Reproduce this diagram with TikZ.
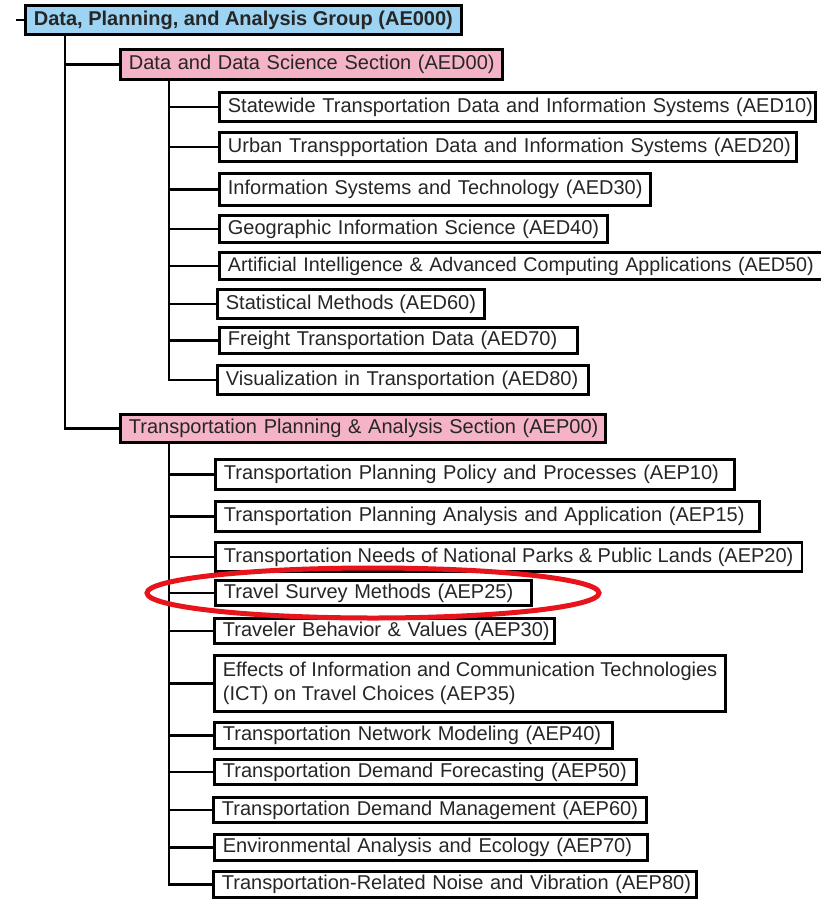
\documentclass[tikz,border=0pt]{standalone}
\usepackage{fontspec}
\setmainfont{Liberation Sans}
\usepackage{xcolor}
\usepackage{tikz}
\usetikzlibrary{positioning}
\definecolor{GroupBlue}{HTML}{9DD3F3}
\definecolor{SectionPink}{HTML}{F4B3C6}
\definecolor{MarkRed}{HTML}{E8141B}
\tikzset{
  MyUnit/.style={
    rectangle, anchor=west, align=left,
    minimum height=28.5pt, inner xsep=8.5pt, inner ysep=2pt,
    line width=2.8pt, draw=black, fill=white,
    font=\fontsize{20}{24}\selectfont, text=black!85,
  },
  MySection/.style={MyUnit, fill=SectionPink},
  MyGroup/.style={MyUnit, fill=GroupBlue, font=\fontsize{20}{24}\selectfont\bfseries},
  MyLine/.style={line width=2.8pt, draw=black},
  MyMark/.style={line width=5pt, draw=MarkRed},
}

\begin{document}
\begin{tikzpicture}[x=1pt, y=-1pt]
\useasboundingbox (0,0) rectangle (820,900);
\node[MyGroup, minimum height=29.5pt] (DPA) at (24,20) {Data, Planning, and Analysis Group (AE000)};
\node[MySection, minimum height=30.5pt, text width=364.7pt] (AED) at (119,64.5) {\mbox{Data and Data Science Section (AED00)}};
\node[MySection, text width=467.7pt] (AEP) at (119,428.5) {\mbox{Transportation Planning \& Analysis Section (AEP00)}};
% data section
\node[MyUnit, minimum height=29.5pt, text width=578.7pt] (AED10) at (218,107) {\mbox{Statewide Transportation Data and Information Systems (AED10)}};
\node[MyUnit, minimum height=29.5pt, text width=559.7pt] (AED20) at (218,147) {\mbox{Urban Transpportation Data and Information Systems (AED20)}};
\node[MyUnit, minimum height=32.5pt, text width=413.7pt] (AED30) at (218,189.5) {\mbox{Information Systems and Technology (AED30)}};
\node[MyUnit, minimum height=27.5pt, text width=370.7pt] (AED40) at (218,229) {\mbox{Geographic Information Science (AED40)}};
\node[MyUnit, minimum height=27.5pt, text width=585.7pt, font=\fontsize{19.7}{24}\selectfont] (AED50) at (218,266) {\mbox{Artificial Intelligence \& Advanced Computing Applications (AED50)}};
\node[MyUnit] (AED60) at (216,304) {Statistical Methods (AED60)};
\node[MyUnit, minimum height=26.5pt, text width=340.7pt] (AED70) at (218,340.5) {\mbox{Freight Transportation Data (AED70)}};
\node[MyUnit, minimum height=29.5pt, text width=353.7pt] (AED80) at (216,380) {\mbox{Visualization in Transportation (AED80)}};
% planning section
\node[MyUnit, minimum height=30.5pt, text width=501.7pt] (AEP10) at (214,474.5) {\mbox{Transportation Planning Policy and Processes (AEP10)}};
\node[MyUnit, minimum height=30.5pt, text width=526.7pt] (AEP15) at (214,516.5) {\mbox{Transportation Planning Analysis and Application (AEP15)}};
\node[MyUnit, minimum height=29.5pt] (AEP20) at (214,557) {Transportation Needs of National Parks \& Public Lands (AEP20)};
\node[MyUnit, minimum height=24.5pt, text width=298.7pt] (AEP25) at (214,593) {\mbox{Travel Survey Methods (AEP25)}};
\node[MyUnit, minimum height=25.5pt, text width=322.7pt] (AEP30) at (213,631) {\mbox{Traveler Behavior \& Values (AEP30)}};
\node[MyUnit, minimum height=56.5pt] (AEP35) at (213,683.5) {Effects of Information and Communication Technologies\\(ICT) on Travel Choices (AEP35)};
\node[MyUnit, minimum height=26.5pt, text width=380.7pt] (AEP40) at (213,735.5) {\mbox{Transportation Network Modeling (AEP40)}};
\node[MyUnit, minimum height=25.5pt, text width=404.7pt] (AEP50) at (213,772) {\mbox{Transportation Demand Forecasting (AEP50)}};
\node[MyUnit, minimum height=25.5pt, text width=415.7pt] (AEP60) at (212,810) {\mbox{Transportation Demand Management (AEP60)}};
\node[MyUnit, minimum height=26.5pt, text width=415.7pt] (AEP70) at (213,847.5) {\mbox{Environmental Analysis and Ecology (AEP70)}};
\node[MyUnit, minimum height=26.5pt, text width=465.7pt] (AEP80) at (212,884.5) {\mbox{Transportation-Related Noise and Vibration (AEP80)}};
% connectors
\coordinate (DPAin) at (16,20);
\coordinate (Trunk) at (65,0);
\coordinate (Bus) at (169,0);
\draw[MyLine] (DPAin) -- (DPA.west);
\draw[MyLine] (DPA.south -| Trunk) |- (AED.west);
\draw[MyLine] (DPA.south -| Trunk) |- (AEP.west);
\foreach \n in {AED10,AED20,AED30,AED40,AED50,AED60,AED70,AED80}
  \draw[MyLine] (AED.south -| Bus) |- (\n.west);
\foreach \n in {AEP10,AEP15,AEP20,AEP25,AEP30,AEP35,AEP40,AEP50,AEP60,AEP70,AEP80}
  \draw[MyLine] (AEP.south -| Bus) |- (\n.west);
% highlight
\coordinate (MarkC) at (373,593);
\draw[MyMark] (MarkC) ellipse [x radius=226pt, y radius=25pt];
\end{tikzpicture}
\end{document}
